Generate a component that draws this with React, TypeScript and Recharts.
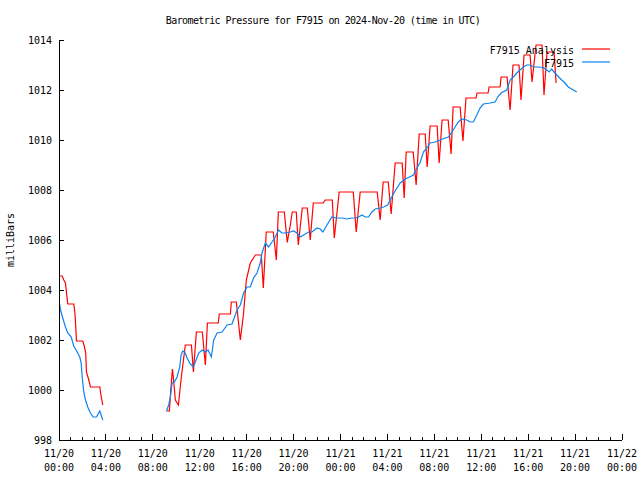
import React from 'react';
import { LineChart, Line, XAxis, YAxis } from 'recharts';

const FONT = '"DejaVu Sans Mono", "Liberation Mono", monospace';

// F7915 Analysis (red), hours since 11/20 00:00 UTC; null marks the data gap
const analysisHours = [
  0.04, 0.27, 0.41, 0.55, 0.64, 0.75, 1.26, 1.35, 1.41, 1.49, 2.03, 2.17, 2.28, 2.34, 2.54, 2.68, 3.48, 3.59, 3.73,
  6.0,
  9.16, 9.41, 9.5, 9.67, 9.75, 9.92, 10.18, 10.43, 10.77, 11.29, 11.46, 11.71, 12.22, 12.48, 12.65, 13.58, 13.67,
  14.61, 14.69, 15.12, 15.46, 15.72, 15.97, 16.31, 16.74, 17.25, 17.42, 17.67, 18.27, 18.53, 18.7, 19.21, 19.46,
  19.72, 19.89, 20.23, 20.4, 20.74, 21.17, 21.42, 21.68, 22.53, 22.7, 23.3, 23.47, 23.89, 25.09, 25.34, 25.68,
  27.13, 27.38, 27.64, 28.07, 28.32, 28.66, 29.26, 29.43, 29.6, 30.2, 30.45, 30.71, 31.22, 31.39, 31.64, 32.24,
  32.41, 32.66, 33.18, 33.43, 33.6, 34.2, 34.44, 34.7, 35.55, 35.64, 36.58, 36.67, 37.61, 37.69, 38.2, 38.46,
  38.71, 39.22, 39.39, 39.65, 40.16, 40.33, 40.67, 41.18, 41.35, 41.61, 42.21, 42.38,
];
const analysisValues = [
  1004.56, 1004.56, 1004.4, 1004.28, 1003.88, 1003.44, 1003.44, 1003.12, 1002.68, 1001.96, 1001.96, 1001.72,
  1001.48, 1000.72, 1000.4, 1000.12, 1000.12, 999.76, 999.4,
  null,
  999.16, 999.16, 999.8, 1000.84, 1000.5, 999.6, 999.4, 1000.52, 1001.8, 1001.8, 1000.72, 1002.32, 1002.32,
  1001.0, 1002.68, 1002.68, 1003.04, 1003.04, 1003.52, 1003.52, 1002.0, 1003.0, 1004.4, 1005.08, 1005.4, 1005.4,
  1004.08, 1006.32, 1006.32, 1005.2, 1007.12, 1007.12, 1005.9, 1006.6, 1007.12, 1007.12, 1005.8, 1007.28,
  1007.28, 1006.0, 1007.48, 1007.48, 1007.6, 1007.6, 1006.08, 1007.92, 1007.92, 1006.32, 1007.92, 1007.92,
  1006.8, 1008.32, 1008.32, 1007.04, 1009.08, 1009.08, 1007.68, 1009.52, 1009.52, 1008.2, 1010.24, 1010.24,
  1008.92, 1010.56, 1010.56, 1009.08, 1010.8, 1010.8, 1009.44, 1011.32, 1011.32, 1009.96, 1011.68, 1011.68,
  1011.88, 1011.88, 1012.12, 1012.12, 1012.52, 1012.52, 1011.2, 1013.0, 1013.0, 1011.6, 1013.4, 1013.4,
  1012.32, 1013.8, 1013.8, 1011.8, 1013.52, 1013.52, 1012.28,
];

// F7915 station readings (blue)
const stationHours = [
  0.04, 0.13, 0.32, 0.55, 0.75, 1.04, 1.26, 1.55, 1.77, 1.89, 1.98, 2.11, 2.26, 2.45, 2.68, 2.91, 3.19, 3.48, 3.59, 3.73,
  6.0,
  9.16, 9.35, 9.5, 9.64, 9.84, 10.07, 10.29, 10.41, 10.55, 10.72, 10.92, 11.14, 11.43, 11.63, 11.91, 12.2, 12.48,
  12.71, 12.99, 13.19, 13.48, 13.9, 14.33, 14.75, 14.97, 15.18, 15.46, 15.74, 16.03, 16.31, 16.59, 16.88, 17.16,
  17.31, 17.59, 17.87, 18.16, 18.44, 18.72, 19.01, 19.29, 19.72, 20.0, 20.29, 20.57, 20.85, 21.28, 21.57, 21.99,
  22.27, 22.5, 22.85, 23.27, 23.7, 24.12, 24.55, 24.97, 25.26, 25.54, 25.83, 26.11, 26.39, 26.68, 26.96, 27.39,
  27.67, 28.01, 28.24, 28.52, 28.81, 29.09, 29.51, 29.8, 30.22, 30.51, 30.79, 31.07, 31.36, 31.64, 32.07, 32.5,
  32.92, 33.2, 33.49, 33.77, 34.05, 34.34, 34.77, 35.05, 35.33, 35.62, 35.9, 36.18, 36.76, 37.18, 37.46, 37.75,
  38.18, 38.46, 38.74, 39.03, 39.31, 39.59, 39.88, 40.16, 40.44, 40.87, 41.29, 41.58, 41.8, 41.99, 42.21, 42.44,
  42.86, 43.14, 43.42, 43.85, 44.14,
];
const stationValues = [
  1003.47, 1003.2, 1002.88, 1002.52, 1002.28, 1002.12, 1001.76, 1001.52, 1001.32, 1001.08, 1000.52, 999.92,
  999.6, 999.32, 999.08, 998.92, 998.92, 999.16, 999.0, 998.8,
  null,
  999.16, 999.4, 999.72, 1000.28, 1000.32, 1000.52, 1000.92, 1001.4, 1001.56, 1001.52, 1001.28, 1001.08,
  1000.92, 1001.12, 1001.48, 1001.6, 1001.52, 1001.6, 1001.32, 1002.0, 1002.28, 1002.32, 1002.6, 1002.64,
  1002.92, 1003.2, 1003.4, 1003.88, 1004.12, 1004.12, 1004.48, 1004.68, 1005.08, 1005.48, 1005.88, 1005.72,
  1005.92, 1006.12, 1006.4, 1006.28, 1006.28, 1006.32, 1006.36, 1006.28, 1006.12, 1006.2, 1006.32, 1006.32,
  1006.48, 1006.44, 1006.32, 1006.6, 1006.92, 1006.88, 1006.88, 1006.84, 1006.88, 1006.88, 1006.92, 1007.0,
  1006.92, 1006.92, 1007.12, 1007.24, 1007.28, 1007.32, 1007.4, 1007.6, 1007.85, 1008.08, 1008.28, 1008.44,
  1008.5, 1008.6, 1008.88, 1009.1, 1009.52, 1009.68, 1009.88, 1009.92, 1010.0, 1010.08, 1010.12, 1010.32,
  1010.52, 1010.72, 1010.84, 1010.8, 1010.72, 1010.72, 1011.0, 1011.28, 1011.44, 1011.48, 1011.52, 1011.76,
  1011.9, 1012.0, 1012.4, 1012.52, 1012.68, 1012.8, 1012.92, 1013.0, 1013.0, 1012.92, 1012.92, 1012.9, 1012.8,
  1012.72, 1012.84, 1012.72, 1012.6, 1012.4, 1012.28, 1012.12, 1012.0, 1011.92,
];

const majorHours = [0, 4, 8, 12, 16, 20, 24, 28, 32, 36, 40, 44, 48];
const majorDates = ['11/20', '11/20', '11/20', '11/20', '11/20', '11/20', '11/21', '11/21', '11/21', '11/21', '11/21', '11/21', '11/22'];
const majorTimes = ['00:00', '04:00', '08:00', '12:00', '16:00', '20:00', '00:00', '04:00', '08:00', '12:00', '16:00', '20:00', '00:00'];
const hourTicks = Array.from({ length: 49 }, (_, i) => i);
const pressureTicks = [998, 1000, 1002, 1004, 1006, 1008, 1010, 1012, 1014];

const analysisData = analysisHours.map((h, i) => ({ h, v: analysisValues[i] }));
const stationData = stationHours.map((h, i) => ({ h, v: stationValues[i] }));

const BottomTick = ({ x, y, payload }: any) => {
  const i = majorHours.indexOf(payload.value);
  return (
    <g>
      <line x1={x} y1={y} x2={x} y2={y - (i >= 0 ? 6 : 3)} stroke="#000" shapeRendering="crispEdges" />
      {i >= 0 && (
        <text textAnchor="middle" fontFamily={FONT} fontSize={10} fill="#000">
          <tspan x={x} y={y + 17}>{majorDates[i]}</tspan>
          <tspan x={x} y={y + 31}>{majorTimes[i]}</tspan>
        </text>
      )}
    </g>
  );
};

const TopTick = ({ x, y, payload }: any) => {
  const major = majorHours.includes(payload.value);
  return <line x1={x} y1={y} x2={x} y2={y + (major ? 6 : 3)} stroke="#000" shapeRendering="crispEdges" />;
};

const LeftTick = ({ x, y, payload }: any) => (
  <g>
    <line x1={x} y1={y} x2={x + 5} y2={y} stroke="#000" shapeRendering="crispEdges" />
    <text x={x - 7} y={y + 4} textAnchor="end" fontFamily={FONT} fontSize={10} fill="#000">
      {payload.value}
    </text>
  </g>
);

const RightTick = ({ x, y }: any) => (
  <line x1={x} y1={y} x2={x - 5} y2={y} stroke="#000" shapeRendering="crispEdges" />
);

export default function App() {
  return (
    <div style={{ position: 'absolute', left: 0, top: 0, width: 640, height: 480, background: '#fff' }}>
      <LineChart width={640} height={480} data={analysisData} margin={{ top: 40, right: 18, bottom: 0, left: 0 }}>
        <XAxis
          xAxisId="bottom"
          dataKey="h"
          type="number"
          domain={[0, 48]}
          ticks={hourTicks}
          interval={0}
          height={40}
          tickSize={0}
          tickMargin={0}
          axisLine={{ stroke: '#000', shapeRendering: 'crispEdges' }}
          tickLine={false}
          tick={BottomTick}
          allowDataOverflow
        />
        <XAxis
          xAxisId="top"
          orientation="top"
          dataKey="h"
          type="number"
          domain={[0, 48]}
          ticks={hourTicks}
          interval={0}
          height={0}
          tickSize={0}
          tickMargin={0}
          axisLine={{ stroke: '#000', shapeRendering: 'crispEdges' }}
          tickLine={false}
          tick={TopTick}
          allowDataOverflow
        />
        <YAxis
          yAxisId="left"
          type="number"
          domain={[998, 1014]}
          ticks={pressureTicks}
          interval={0}
          width={59}
          tickSize={0}
          tickMargin={0}
          axisLine={{ stroke: '#000', shapeRendering: 'crispEdges' }}
          tickLine={false}
          tick={LeftTick}
          allowDataOverflow
        />
        <YAxis
          yAxisId="right"
          orientation="right"
          type="number"
          domain={[998, 1014]}
          ticks={pressureTicks}
          interval={0}
          width={0}
          tickSize={0}
          tickMargin={0}
          axisLine={{ stroke: '#000', shapeRendering: 'crispEdges' }}
          tickLine={false}
          tick={RightTick}
          allowDataOverflow
        />
        <Line
          xAxisId="bottom"
          yAxisId="left"
          data={analysisData}
          dataKey="v"
          type="linear"
          stroke="#ff0000"
          strokeWidth={1.2}
          dot={false}
          activeDot={false}
          isAnimationActive={false}
        />
        <Line
          xAxisId="bottom"
          yAxisId="left"
          data={stationData}
          dataKey="v"
          type="linear"
          stroke="#0a84f0"
          strokeWidth={1.2}
          dot={false}
          activeDot={false}
          isAnimationActive={false}
        />
      </LineChart>
      <svg width={640} height={480} style={{ position: 'absolute', left: 0, top: 0, pointerEvents: 'none' }}>
        <text x={323} y={24} textAnchor="middle" fontFamily={FONT} fontSize={10} letterSpacing={-0.6} fill="#000">
          Barometric Pressure for F7915 on 2024-Nov-20 (time in UTC)
        </text>
        <text x={14} y={240} transform="rotate(-90 14 240)" textAnchor="middle" fontFamily={FONT} fontSize={10} fill="#000">
          milliBars
        </text>
        <text x={574} y={54} textAnchor="end" fontFamily={FONT} fontSize={10} fill="#000">
          F7915 Analysis
        </text>
        <line x1={582} y1={49} x2={610} y2={49} stroke="#ff0000" strokeWidth={1.2} />
        <text x={574} y={67} textAnchor="end" fontFamily={FONT} fontSize={10} fill="#000">
          F7915
        </text>
        <line x1={582} y1={62} x2={610} y2={62} stroke="#0a84f0" strokeWidth={1.2} />
      </svg>
    </div>
  );
}
